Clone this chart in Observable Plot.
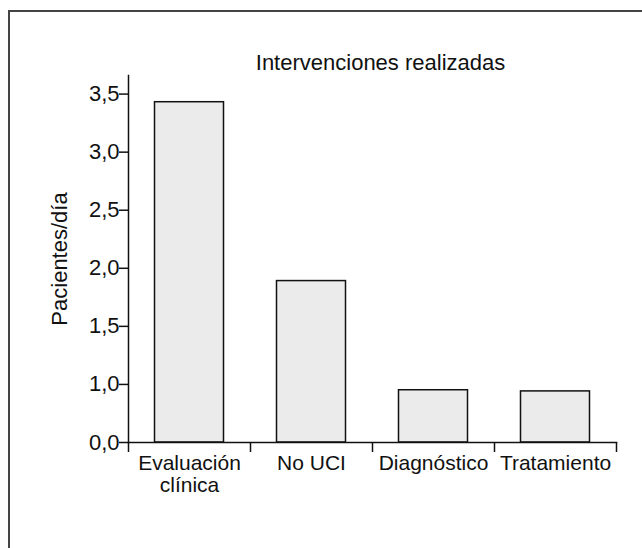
<!DOCTYPE html>
<html>
<head>
<meta charset="utf-8">
<script src="https://cdn.jsdelivr.net/npm/d3@7"></script>
<script src="https://cdn.jsdelivr.net/npm/@observablehq/plot@0.6"></script>
<style>
  html, body { margin: 0; padding: 0; background: #fff; }
  #wrap { position: relative; width: 642px; height: 548px; overflow: hidden; }
  #wrap svg { display: block; position: absolute; left: 0; top: 0; }
  #border { position: absolute; left: 8px; top: 10px; width: 700px; height: 600px;
            border-top: 2px solid #444; border-left: 2px solid #444; pointer-events: none; }
</style>
</head>
<body>
<div id="wrap"><div id="border"></div></div>
<script>
// Data
const categories = ["Evaluación clínica", "No UCI", "Diagnóstico", "Tratamiento"];
const categoryLabels = ["Evaluación\nclínica", "No UCI", "Diagnóstico", "Tratamiento"];
const values = [3.43, 1.89, 0.95, 0.94];
// Broken axis: the bottom of the axis (plotted at 0.5) is labelled "0,0"
const axisBase = 0.5;
const yTickValues = [0.5, 1.0, 1.5, 2.0, 2.5, 3.0, 3.5];
const yTickLabels = ["0,0", "1,0", "1,5", "2,0", "2,5", "3,0", "3,5"];
const title = "Intervenciones realizadas";
const yLabel = "Pacientes/día";

const data = categories.map((c, i) => ({cat: c, value: values[i]}));

const W = 642, H = 548;
const mL = 128, mR = 26, mT = 75, mB = 106;
const bw = (W - mL - mR) / categories.length;
const FS = 22;
const FSX = 21;

const chart = Plot.plot({
  width: W,
  height: H,
  marginLeft: mL,
  marginRight: mR,
  marginTop: mT,
  marginBottom: mB,
  style: {fontFamily: "'Liberation Sans', Arial, Helvetica, sans-serif", fontSize: FS + "px", color: "#111", background: "transparent"},
  x: {domain: categories, padding: 0, axis: null},
  y: {domain: [axisBase, 3.66], axis: null},
  marks: [
    Plot.barY(data, {x: "cat", y1: () => axisBase, y2: "value", fill: "#ebebeb", stroke: "#111", strokeWidth: 1.5, insetLeft: 26.5, insetRight: 26.5}),
    Plot.frame({anchor: "left", stroke: "#111", strokeWidth: 1.5}),
    Plot.frame({anchor: "bottom", stroke: "#111", strokeWidth: 1.5}),
    Plot.axisY({ticks: yTickValues, tickFormat: d => yTickLabels[yTickValues.indexOf(d)], tickSize: 9, tickPadding: 0, label: null, fontSize: FS, stroke: "#111", strokeWidth: 1.5}),
    Plot.axisX({ticks: categories, tickSize: 0, tickPadding: 12, tickFormat: d => categoryLabels[categories.indexOf(d)], label: null, fontSize: FSX, lineHeight: 1.05}),
    Plot.axisX({ticks: categories, tickSize: 10, dx: bw / 2, tickFormat: () => "", label: null, stroke: "#111", strokeWidth: 1.5}),
    Plot.axisX({ticks: [categories[0]], tickSize: 10, dx: -bw / 2, tickFormat: () => "", label: null, stroke: "#111", strokeWidth: 1.5}),
    Plot.text([title], {frameAnchor: "top", textAnchor: "middle", lineAnchor: "middle", dy: -13, dx: 8, fontSize: FS, fill: "#111"}),
    Plot.text([yLabel], {frameAnchor: "left", textAnchor: "middle", rotate: -90, lineAnchor: "middle", dx: -69, fontSize: FS, fill: "#111"})
  ]
});
document.getElementById("wrap").insertBefore(chart, document.getElementById("border"));
</script>
</body>
</html>
